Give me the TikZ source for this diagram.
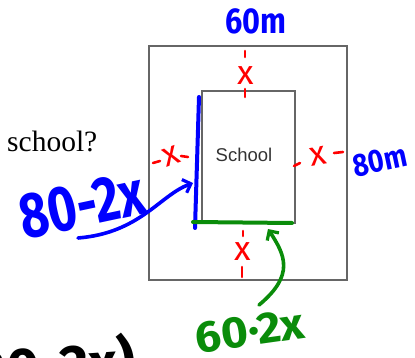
\documentclass[tikz,border=0pt]{standalone}
\usepackage{fontspec}
\setmainfont{Liberation Serif}
\newfontfamily\sansf{Liberation Sans}
\newfontfamily\hand{Fira Sans}
\usetikzlibrary{arrows.meta}
\definecolor{boxgray}{HTML}{666666}
\definecolor{txtgray}{HTML}{333333}
\definecolor{inkblue}{HTML}{0000FF}
\definecolor{inkgreen}{HTML}{0A8C0A}
\definecolor{inkred}{HTML}{FF0000}
\tikzset{
  box/.style={draw=boxgray, line width=1.4pt, inner sep=0pt},
  reddash/.style={draw=inkred, line width=2.6pt, line cap=round},
  redx/.style={text=inkred, font=\hand\fontsize{34}{34}\selectfont, inner sep=0pt},
  bluelbl/.style={text=inkblue, inner sep=0pt},
  greenlbl/.style={text=inkgreen, inner sep=0pt},
  inkline/.style={line width=4pt, line cap=round},
  inkarrow/.style={line width=3.6pt, line cap=round, line join=round,
    -{Straight Barb[length=7pt,width=14pt,line width=3.2pt]}},
}
\begin{document}
\begin{tikzpicture}[x=1pt,y=-1pt]
\useasboundingbox (0,0) rectangle (415,358);
\clip (0,0) rectangle (415,358);
% rectangles
\node[box, minimum width=198pt, minimum height=234pt] (outer) at (248,163) {};
\node[box, minimum width=93pt, minimum height=132pt] (inner) at (248.5,157) {};
\node[text=txtgray, font=\sansf\fontsize{18.5}{20}\selectfont, inner sep=0pt] (schooltxt) at (244,155) {School};
\node[font=\fontsize{29.5}{30}\selectfont, inner sep=0pt, anchor=base west] (question) at (7,152) {school?};
% red dashed marks with x
\coordinate (t1) at (245,51); \coordinate (t2) at (245,57);
\coordinate (t3) at (245,89); \coordinate (t4) at (245,97);
\draw[reddash] (t1) -- (t2); \draw[reddash] (t3) -- (t4);
\node[redx] (tx) at (246,76) {x};
\coordinate (l1) at (153,163); \coordinate (l2) at (160,161);
\coordinate (l3) at (181,156); \coordinate (l4) at (188,157);
\draw[reddash] (l1) -- (l2); \draw[reddash] (l3) -- (l4);
\node[redx, rotate=20] (lx) at (171,156) {x};
\coordinate (r1) at (294,166); \coordinate (r2) at (300,163);
\coordinate (r3) at (334,153); \coordinate (r4) at (343,152);
\draw[reddash] (r1) -- (r2); \draw[reddash] (r3) -- (r4);
\node[redx, rotate=10] (rx) at (318,156) {x};
\coordinate (b1) at (243,231); \coordinate (b2) at (243,236);
\coordinate (b3) at (242,267); \coordinate (b4) at (242,277);
\draw[reddash] (b1) -- (b2); \draw[reddash] (b3) -- (b4);
\node[redx] (bx) at (243,252) {x};
% blue and green edges
\coordinate (bl1) at (199,97); \coordinate (bl2) at (195,228);
\draw[inkline, inkblue] (bl1) -- (bl2);
\coordinate (gr1) at (193,222); \coordinate (gr2) at (292,223);
\draw[inkline, inkgreen] (gr1) -- (gr2);
% labels
\node[bluelbl, font=\hand\bfseries\fontsize{36}{36}\selectfont, xscale=0.85] (top) at (256,21) {60m};
\node[bluelbl, font=\hand\bfseries\fontsize{32}{32}\selectfont, rotate=12, xscale=0.85] (right) at (380,161) {80m};
\node[bluelbl, font=\hand\bfseries\fontsize{64}{64}\selectfont, rotate=12, xscale=0.78] (lefttxt) at (82,205) {80-2x};
\node[greenlbl, font=\hand\bfseries\fontsize{44}{44}\selectfont, rotate=8, xscale=1.05] (bottom) at (250,331) {60·2x};
\node[font=\hand\bfseries\fontsize{56}{56}\selectfont, inner sep=0pt, anchor=base east, rotate=4] (paren) at (137,380) {(80-2x)};
% arrows
\coordinate (ba0) at (78,238); \coordinate (ba1) at (193,183);
\draw[inkarrow, inkblue] (ba0) .. controls (140,233) and (160,195) .. (ba1);
\coordinate (ga0) at (259,305); \coordinate (ga1) at (268,229);
\draw[inkarrow, inkgreen] (ga0) .. controls (295,275) and (285,255) .. (ga1);
\end{tikzpicture}
\end{document}
